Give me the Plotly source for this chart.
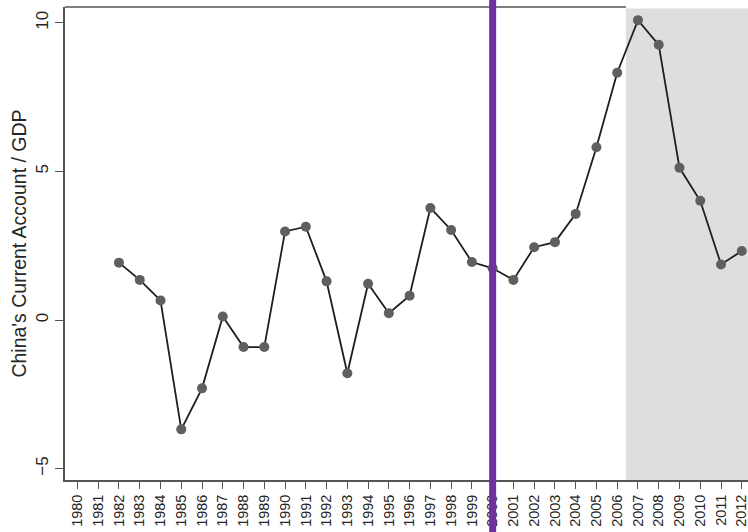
import plotly.graph_objects as go

# China's current account balance as a share of GDP (%)
years = list(range(1982, 2013))
ca_gdp = [1.93, 1.35, 0.66, -3.68, -2.30, 0.12, -0.91, -0.91, 2.98, 3.14,
          1.30, -1.79, 1.22, 0.23, 0.82, 3.77, 3.03, 1.95, 1.74, 1.35,
          2.45, 2.62, 3.57, 5.81, 8.32, 10.09, 9.26, 5.12, 4.01, 1.87, 2.32]

tick_years = list(range(1980, 2013))
y_ticks = [-5, 0, 5, 10]
y_tick_text = ["\u22125", "0", "5", "10"]

marker_year = 2000          # vertical reference line
shade_start = 2006.42       # start of shaded period
x_range = [1979.40, 2012.30]
y_range = [-5.384, 10.532]

fig = go.Figure()

fig.add_trace(go.Scatter(
    x=years, y=ca_gdp, mode="lines+markers",
    line=dict(color="#1e1e1e", width=1.8),
    marker=dict(color="#5f5f5f", size=10, line=dict(width=0)),
    showlegend=False, hoverinfo="x+y",
))

# shaded period
fig.add_shape(type="rect", xref="x", yref="paper",
              x0=shade_start, x1=x_range[1], y0=0, y1=0.997,
              fillcolor="#dedede", line=dict(width=0), layer="below")

# top border of the frame over the unshaded part
fig.add_shape(type="line", xref="x", yref="paper",
              x0=x_range[0], x1=shade_start, y0=1, y1=1,
              line=dict(color="#555555", width=1.6), layer="above")

# purple vertical line
fig.add_shape(type="line", xref="x", yref="paper",
              x0=marker_year, x1=marker_year, y0=-0.2, y1=1.05,
              line=dict(color="#7030a0", width=7), layer="above")

fig.update_layout(
    width=748, height=532,
    margin=dict(l=65, r=0, t=7, b=52),
    paper_bgcolor="white", plot_bgcolor="white",
    font=dict(family="Liberation Sans, Arial, sans-serif", color="#262626"),
    xaxis=dict(
        range=x_range, tickmode="array", tickvals=tick_years,
        ticktext=[str(y) for y in tick_years], tickangle=-90,
        ticks="outside", ticklen=7, tickwidth=1.4, tickcolor="#555555",
        tickfont=dict(size=14.5), showgrid=False, zeroline=False,
        showline=True, linecolor="#555555", linewidth=1.6, mirror=False,
        ticklabeloverflow="allow",
    ),
    yaxis=dict(
        range=y_range, tickmode="array", tickvals=y_ticks,
        ticktext=y_tick_text, tickangle=-90,
        ticks="outside", ticklen=8, tickwidth=1.4, tickcolor="#555555",
        tickfont=dict(size=17), showgrid=False, zeroline=False,
        showline=True, linecolor="#555555", linewidth=1.6, mirror=False,
        title=dict(text="China's Current Account / GDP",
                   font=dict(size=19.5), standoff=2),
    ),
)

fig.write_html("out.html")
